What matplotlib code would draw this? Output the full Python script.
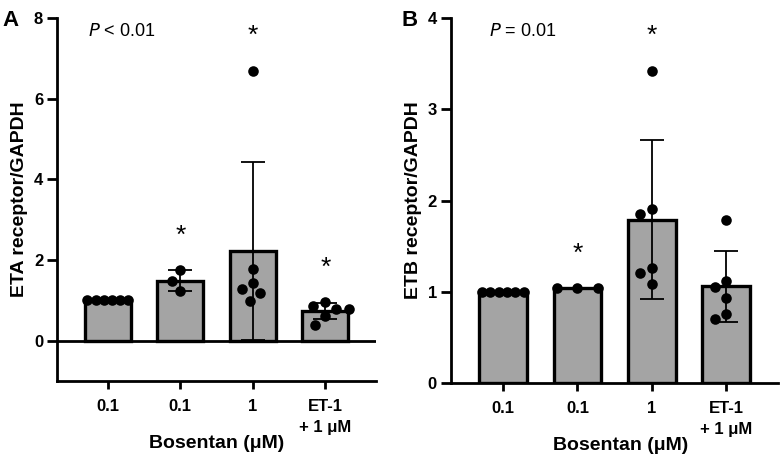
import numpy as np
import matplotlib
matplotlib.use('Agg')
import matplotlib.pyplot as plt

plt.rcParams['font.family'] = ['Liberation Sans', 'DejaVu Sans']

# data
groups = ['0.1', '0.1', '1', 'ET-1\n+ 1 μM']

eta_points = [
    [1.0, 1.0, 1.0, 1.0, 1.0, 1.0],
    [1.74, 1.49, 1.22],
    [6.69, 1.77, 1.44, 1.27, 1.18, 0.98],
    [0.96, 0.87, 0.78, 0.78, 0.60, 0.39],
]
etb_points = [
    [1.0, 1.0, 1.0, 1.0, 1.0, 1.0],
    [1.04, 1.04, 1.04],
    [3.42, 1.91, 1.85, 1.26, 1.21, 1.09],
    [1.79, 1.12, 1.05, 0.93, 0.76, 0.70],
]
eta_stars = [False, True, True, True]
etb_stars = [False, True, True, False]

BAR_W = 0.64
GRAY = '#a4a4a4'
GAP_PX = 13.0


def swarm(vals, ax, xc):
    # simple beeswarm in pixel space, identical values spread over the bar
    vals = np.asarray(vals, float)
    if np.allclose(vals, vals[0]):
        return xc + np.linspace(-0.28, 0.28, len(vals))
    bb = ax.get_position()
    fig = ax.figure
    w_px = bb.width * fig.get_figwidth() * fig.dpi
    h_px = bb.height * fig.get_figheight() * fig.dpi
    x0, x1 = ax.get_xlim()
    y0, y1 = ax.get_ylim()
    sx = w_px / (x1 - x0)
    sy = h_px / (y1 - y0)
    placed = []
    offs = np.zeros(len(vals))
    for i in np.argsort(-vals):
        y = vals[i] * sy
        bad = []
        for px, py in placed:
            dy = abs(py - y)
            if dy < GAP_PX:
                h = np.sqrt(GAP_PX ** 2 - dy ** 2)
                bad.append((px - h, px + h))
        cands = [0.0] + [e for b in bad for e in b]
        cands.sort(key=abs)
        for c in cands:
            if all(not (lo + 1e-6 < c < hi - 1e-6) for lo, hi in bad):
                offs[i] = c
                break
        placed.append((offs[i], y))
    return xc + offs / sx


def panel(ax, pts, stars, ylim, yticks, ylabel, ptext, ptext_x, label_x):
    x = np.arange(len(pts))
    ax.set_xlim(-0.7, 3.7)
    ax.set_ylim(*ylim)
    means = [np.mean(p) for p in pts]
    sds = [np.std(p, ddof=1) for p in pts]
    ax.bar(x, means, width=BAR_W, color=GRAY, edgecolor='black', linewidth=2.4, zorder=2)
    for i, p in enumerate(pts):
        xs = swarm(p, ax, x[i])
        ax.scatter(xs, p, s=58, color='black', zorder=3, linewidths=0, clip_on=False)
        if sds[i] > 0:
            ax.errorbar(x[i], means[i], yerr=sds[i], fmt='none', ecolor='black',
                        elinewidth=1.3, capsize=8.5, capthick=1.3, zorder=4)
        if stars[i]:
            top = max(max(p), means[i] + sds[i])
            ax.text(x[i], top + 0.095 * (ylim[1] - ylim[0]), '*', ha='center', va='center',
                    fontsize=19)
    if ylim[0] < 0:
        ax.axhline(0, color='black', linewidth=2, zorder=5)
    ax.set_yticks(yticks)
    ax.set_xticks(x)
    ax.set_xticklabels(groups, fontsize=12, fontweight='bold', linespacing=1.5)
    for t in ax.get_yticklabels():
        t.set_fontsize(12)
        t.set_fontweight('bold')
    ax.spines['top'].set_visible(False)
    ax.spines['right'].set_visible(False)
    ax.spines['left'].set_linewidth(2)
    ax.spines['bottom'].set_linewidth(2)
    ax.tick_params(axis='y', width=2, length=7, pad=3)
    ax.tick_params(axis='x', width=2, length=6, pad=7)
    ax.set_ylabel(ylabel, fontsize=14, fontweight='bold', labelpad=4)
    ax.set_xlabel('Bosentan (μM)', fontsize=14, fontweight='bold')
    ax.xaxis.set_label_coords(label_x, -0.148)
    ax.text(ptext_x, 0.962, ptext, transform=ax.transAxes, fontsize=13, va='center', ha='left')


fig = plt.figure(figsize=(7.8, 4.61), dpi=100)
ax1 = fig.add_axes([0.0731, 0.1735, 0.409, 0.7875])
ax2 = fig.add_axes([0.578, 0.169, 0.420, 0.792])

panel(ax1, eta_points, eta_stars, (-1, 8), [0, 2, 4, 6, 8], 'ETA receptor/GAPDH',
      r'$\it{P}$ < 0.01', 0.097, 0.50)
panel(ax2, etb_points, etb_stars, (0, 4), [0, 1, 2, 3, 4], 'ETB receptor/GAPDH',
      r'$\it{P}$ = 0.01', 0.118, 0.517)

fig.text(0.003, 0.978, 'A', fontsize=16, fontweight='bold', va='top')
fig.text(0.515, 0.978, 'B', fontsize=16, fontweight='bold', va='top')

plt.savefig('out.png', dpi=100)
